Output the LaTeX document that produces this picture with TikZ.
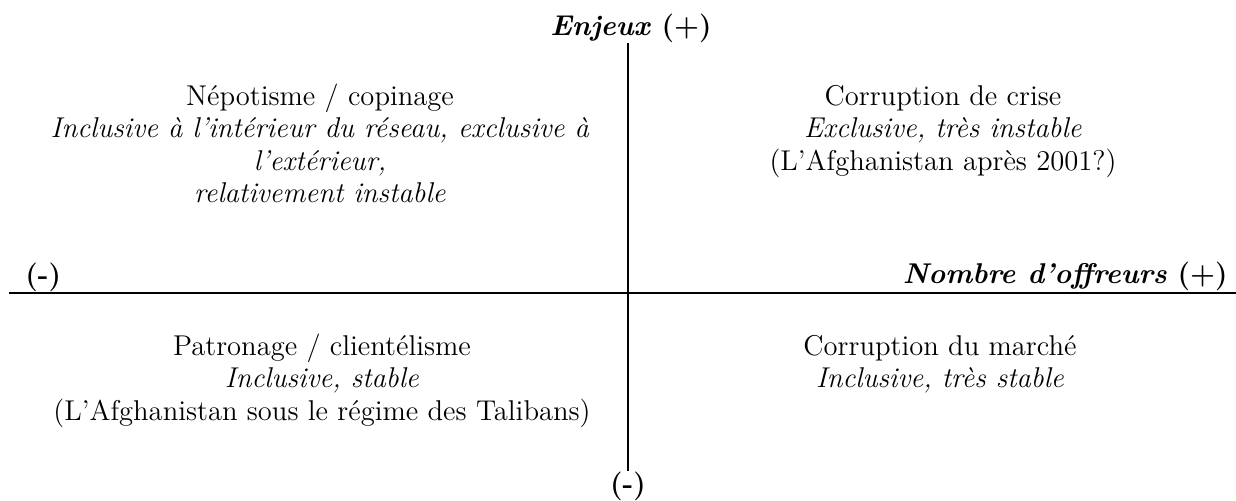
\documentclass[tikz,border=0pt]{standalone}
\usepackage{tikz}

\tikzset{
	cadran/.style={align=center, anchor=north, inner sep=0pt, font=\fontsize{14.3}{16.25}\selectfont},
	axelabel/.style={inner sep=0pt, font=\fontsize{14.3}{16.25}\selectfont\bfseries},
}

\begin{document}
\begin{tikzpicture}[x=0.5pt, y=-0.5pt]
			\useasboundingbox (0,0) rectangle (1236,500);

			\coordinate (haut) at (628,43);
			\coordinate (bas) at (628,471);
			\coordinate (gauche) at (9,293);
			\coordinate (droite) at (1236,293);

			\draw[line width=1pt] (gauche) -- (droite);
			\draw[line width=1pt] (haut) -- (bas);

			\node[axelabel, anchor=base] (enjeux) at (631,35) {\textit{Enjeux} (+)};
			\node[axelabel, anchor=base] (moinsbas) at (628,493) {(-)};
			\node[axelabel, anchor=base west] (moinsgauche) at (25,284) {(-)};
			\node[axelabel, anchor=base east] (offreurs) at (1228,283) {\textit{Nombre d’offreurs} (+)};

			\node[cadran] (nepotisme) at (320,82) {\strut Népotisme / copinage\\
				\textit{Inclusive à l’intérieur du réseau, exclusive à}\\
				\textit{l’extérieur,}\\
				\textit{relativement instable}};
			\node[cadran] (crise) at (943,82) {\strut Corruption de crise\\
				\textit{Exclusive, très instable}\\
				(L’Afghanistan après 2001?)};
			\node[cadran] (patronage) at (322,332) {\strut Patronage / clientélisme\\
				\textit{Inclusive, stable}\\
				(L’Afghanistan sous le régime des Talibans)};
			\node[cadran] (marche) at (940,332) {\strut Corruption du marché\\
				\textit{Inclusive, très stable}};
		\end{tikzpicture}
\end{document}
